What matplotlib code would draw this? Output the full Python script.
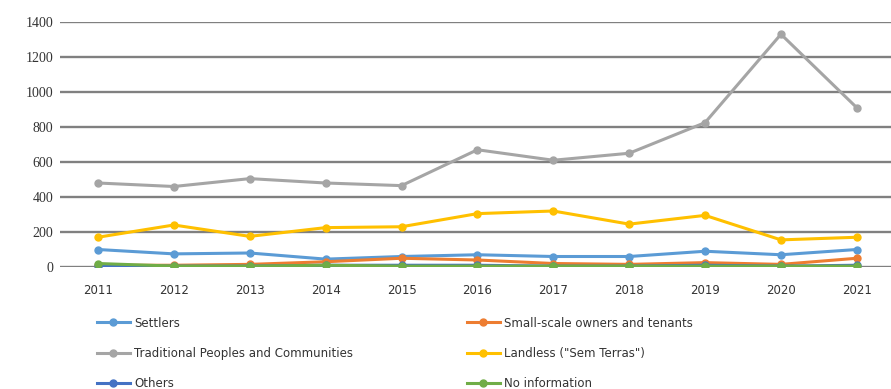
import matplotlib
matplotlib.use("Agg")
import matplotlib.pyplot as plt

years = [2011, 2012, 2013, 2014, 2015, 2016, 2017, 2018, 2019, 2020, 2021]
settlers = [100, 75, 80, 45, 60, 70, 60, 60, 90, 70, 100]
small_owners = [10, 10, 15, 30, 50, 40, 20, 15, 25, 15, 50]
traditional = [480, 460, 505, 480, 465, 670, 610, 650, 825, 1330, 910]
landless = [170, 240, 175, 225, 230, 305, 320, 245, 295, 155, 170]
others = [5, 5, 5, 10, 10, 10, 5, 5, 10, 5, 10]
no_info = [20, 5, 5, 10, 5, 5, 5, 5, 5, 5, 5]

labels = ["Settlers", "Small-scale owners and tenants",
          "Traditional Peoples and Communities", "Landless (\"Sem Terras\")",
          "Others", "No information"]
colors = ["#5B9BD5", "#ED7D31", "#A5A5A5", "#FFC000", "#4472C4", "#70AD47"]
series = [settlers, small_owners, traditional, landless, others, no_info]

fig = plt.figure(figsize=(8.91, 3.89), dpi=100)
ax = fig.add_axes([60 / 891, 1 - 267 / 389, 831 / 891, 245 / 389])

handles = {}
for lab, col, vals in zip(labels, colors, series):
    h, = ax.plot(years, vals, color=col, lw=2.2, marker="o", ms=5, zorder=3)
    handles[lab] = h

ax.set_ylim(0, 1400)
ax.set_xlim(2010.5, 2021.45)
ax.set_yticks(range(0, 1401, 200))
ax.set_xticks(years)
ax.grid(axis="y", color="#808080", lw=1.7, zorder=1)
for s in ax.spines.values():
    s.set_visible(False)
ax.tick_params(length=0)
ax.tick_params(axis="y", labelsize=10, pad=5, labelcolor="#333333")
ax.tick_params(axis="x", labelsize=8.5, pad=12, labelcolor="#333333")
for t in ax.get_yticklabels():
    t.set_family(["Liberation Serif", "DejaVu Serif"])

# legend: two columns placed by hand, as in the original
leg_kw = dict(frameon=False, handlelength=2.8, handletextpad=0.4,
              labelspacing=1.45, loc="upper left",
              prop={"size": 8.5})
col1 = [labels[0], labels[2], labels[4]]
col2 = [labels[1], labels[3], labels[5]]
l1 = fig.legend([handles[k] for k in col1], col1,
                bbox_to_anchor=(86 / 891, 1 - 306 / 389), **leg_kw)
l2 = fig.legend([handles[k] for k in col2], col2,
                bbox_to_anchor=(456 / 891, 1 - 306 / 389), **leg_kw)
for t in l1.get_texts() + l2.get_texts():
    t.set_color("#333333")

fig.savefig("out.png", dpi=100)
